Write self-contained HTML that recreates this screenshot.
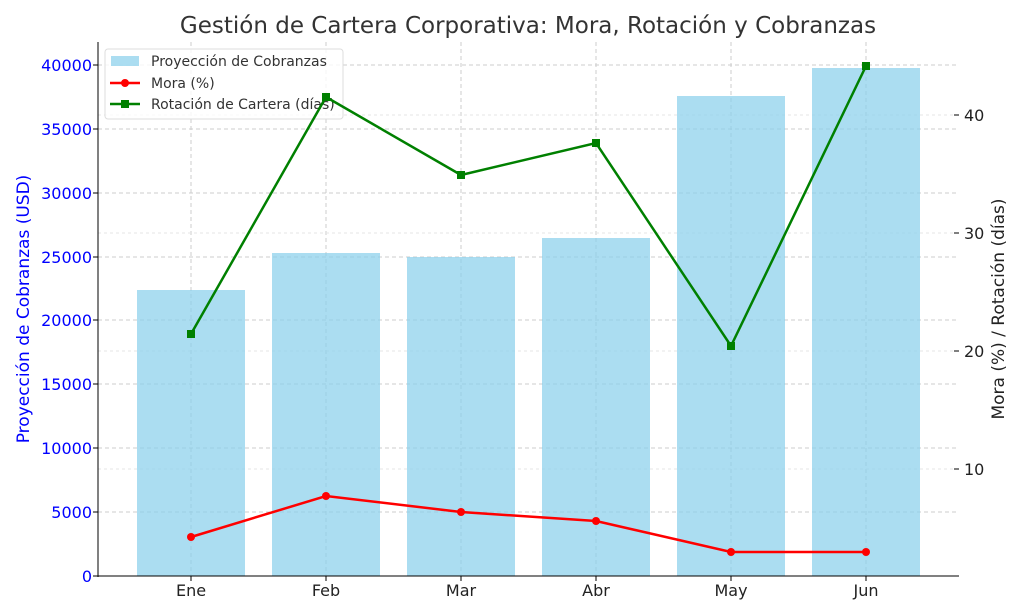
<!DOCTYPE html><html><head><meta charset="utf-8"><style>body{margin:0;background:#fff}svg{display:block}text{font-family:"DejaVu Sans","Liberation Sans",sans-serif}</style></head><body>
<svg width="1024" height="614" viewBox="0 0 1024 614">
<text x="528" y="33" font-size="23" text-anchor="middle" fill="#333">Gestión de Cartera Corporativa: Mora, Rotación y Cobranzas</text>
<g stroke="#ccc" stroke-dasharray="4,3" stroke-width="1">
<line x1="98" x2="959" y1="512" y2="512"/><line x1="98" x2="959" y1="448" y2="448"/><line x1="98" x2="959" y1="384" y2="384"/><line x1="98" x2="959" y1="320" y2="320"/><line x1="98" x2="959" y1="257" y2="257"/><line x1="98" x2="959" y1="193" y2="193"/><line x1="98" x2="959" y1="129" y2="129"/><line x1="98" x2="959" y1="65" y2="65"/>
<line x1="191" x2="191" y1="42" y2="576"/><line x1="326" x2="326" y1="42" y2="576"/><line x1="461" x2="461" y1="42" y2="576"/><line x1="596" x2="596" y1="42" y2="576"/><line x1="731" x2="731" y1="42" y2="576"/><line x1="866" x2="866" y1="42" y2="576"/>
</g>
<g stroke="#e6e6e6" stroke-dasharray="3,3"><line x1="98" x2="959" y1="469" y2="469"/><line x1="98" x2="959" y1="351" y2="351"/><line x1="98" x2="959" y1="233" y2="233"/><line x1="98" x2="959" y1="115" y2="115"/></g>
<g fill="#87ceeb" fill-opacity="0.7">
<rect x="137" y="290" width="108" height="286"/><rect x="272" y="253" width="108" height="323"/><rect x="407" y="257" width="108" height="319"/><rect x="542" y="238" width="108" height="338"/><rect x="677" y="96" width="108" height="480"/><rect x="812" y="68" width="108" height="508"/>
</g>
<line x1="98" x2="98" y1="42" y2="577" stroke="#000"/><line x1="98" x2="959" y1="576" y2="576" stroke="#000"/>
<g fill="#0000ff" font-size="16" text-anchor="end">
<text x="92" y="582">0</text><text x="92" y="518">5000</text><text x="92" y="454">10000</text><text x="92" y="390">15000</text><text x="92" y="326">20000</text><text x="92" y="263">25000</text><text x="92" y="199">30000</text><text x="92" y="135">35000</text><text x="92" y="71">40000</text>
</g>
<g stroke="#000"><line x1="93" x2="98" y1="576" y2="576"/><line x1="93" x2="98" y1="512" y2="512"/><line x1="93" x2="98" y1="448" y2="448"/><line x1="93" x2="98" y1="384" y2="384"/><line x1="93" x2="98" y1="320" y2="320"/><line x1="93" x2="98" y1="257" y2="257"/><line x1="93" x2="98" y1="193" y2="193"/><line x1="93" x2="98" y1="129" y2="129"/><line x1="93" x2="98" y1="65" y2="65"/>
<line x1="954" x2="959" y1="469" y2="469"/><line x1="954" x2="959" y1="351" y2="351"/><line x1="954" x2="959" y1="233" y2="233"/><line x1="954" x2="959" y1="115" y2="115"/>
<line x1="191" x2="191" y1="576" y2="581"/><line x1="326" x2="326" y1="576" y2="581"/><line x1="461" x2="461" y1="576" y2="581"/><line x1="596" x2="596" y1="576" y2="581"/><line x1="731" x2="731" y1="576" y2="581"/><line x1="866" x2="866" y1="576" y2="581"/></g>
<g font-size="16" fill="#222"><text x="964" y="475">10</text><text x="964" y="357">20</text><text x="964" y="239">30</text><text x="964" y="121">40</text></g>
<g font-size="16" fill="#222" text-anchor="middle"><text x="191" y="596">Ene</text><text x="326" y="596">Feb</text><text x="461" y="596">Mar</text><text x="596" y="596">Abr</text><text x="731" y="596">May</text><text x="866" y="596">Jun</text></g>
<text transform="translate(29,309) rotate(-90)" font-size="17" fill="#0000ff" text-anchor="middle">Proyección de Cobranzas (USD)</text>
<text transform="translate(1004,309) rotate(-90)" font-size="17" fill="#222" text-anchor="middle">Mora (%) / Rotación (días)</text>
<g>
<rect x="105" y="49" width="238" height="70" rx="3" fill="#fff" fill-opacity="0.8" stroke="#ddd"/>
<rect x="111" y="56" width="28" height="10" fill="#87ceeb" fill-opacity="0.7"/>
<line x1="110" x2="140" y1="83" y2="83" stroke="#f00" stroke-width="2.5"/><circle cx="125" cy="83" r="4" fill="#f00"/>
<line x1="110" x2="140" y1="104" y2="104" stroke="#008000" stroke-width="2.5"/><rect x="121" y="100" width="8" height="8" fill="#008000"/>
<g font-size="14" fill="#333"><text x="151" y="66">Proyección de Cobranzas</text><text x="151" y="88">Mora (%)</text><text x="151" y="109">Rotación de Cartera (días)</text></g>
</g>
<polyline points="191,334 326,97 461,175 596,143 731,346 866,66" fill="none" stroke="#008000" stroke-width="2.5"/>
<g fill="#008000"><rect x="187" y="330" width="8" height="8"/><rect x="322" y="93" width="8" height="8"/><rect x="457" y="171" width="8" height="8"/><rect x="592" y="139" width="8" height="8"/><rect x="727" y="342" width="8" height="8"/><rect x="862" y="62" width="8" height="8"/></g>
<polyline points="191,537 326,496 461,512 596,521 731,552 866,552" fill="none" stroke="#f00" stroke-width="2.5"/>
<g fill="#f00"><circle cx="191" cy="537" r="4"/><circle cx="326" cy="496" r="4"/><circle cx="461" cy="512" r="4"/><circle cx="596" cy="521" r="4"/><circle cx="731" cy="552" r="4"/><circle cx="866" cy="552" r="4"/></g>
</svg></body></html>
